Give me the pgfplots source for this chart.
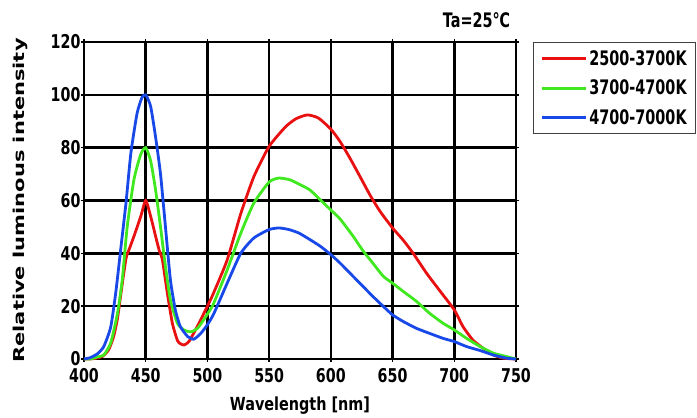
\documentclass[border=0pt]{standalone}
\usepackage{fontspec}
\usepackage{pgfplots}
\pgfplotsset{compat=1.18}
\setmainfont{DejaVu Sans}
\newfontfamily\tickfont[FakeStretch=0.75]{DejaVu Sans}
\newfontfamily\legfont[FakeStretch=0.72]{DejaVu Sans}
\newfontfamily\xlabfont[FakeStretch=0.8]{DejaVu Sans}
\newfontfamily\ylabfont[FakeStretch=1.4]{DejaVu Sans}

\definecolor{cred}{RGB}{232,16,16}
\definecolor{cgreen}{RGB}{64,232,32}
\definecolor{cblue}{RGB}{24,72,232}

\begin{document}
\begin{tikzpicture}
\useasboundingbox (-84pt,-59pt) rectangle (613pt,359pt);
\begin{axis}[
    scale only axis,
    width=432pt, height=317pt,
    xmin=400, xmax=750, ymin=0, ymax=120,
    xtick={400,450,...,750},
    ytick={0,20,...,120},
    grid=major,
    major grid style={black, line width=2.6pt},
    axis line style={black, line width=2.6pt},
    tick style={black, line width=1.5pt},
    tick align=outside,
    major tick length=3pt,
    /pgf/number format/assume math mode=true,
    ticklabel style={font=\tickfont\bfseries\fontsize{19}{22}\selectfont},
    xticklabel style={yshift=-3pt},
    yticklabel style={xshift=3pt},
    xlabel={\xlabfont\bfseries\fontsize{18}{20}\selectfont Wavelength [nm]},
    ylabel={\ylabfont\bfseries\fontsize{15}{18}\selectfont Relative luminous intensity},
    xlabel style={yshift=-7pt},
    ylabel style={yshift=16pt},
    clip=false,
    legend style={at={(1.039,1)}, anchor=north west,
      draw=black!75, line width=1pt, fill=white,
      font=\legfont\bfseries\fontsize{20}{24}\selectfont,
      inner xsep=7pt, inner ysep=6pt, row sep=9pt},
    legend cell align=left,
    legend image code/.code={\draw[#1, line width=3pt] (0pt,0pt) -- (44pt,0pt);},
    every axis plot/.append style={line width=2.8pt, smooth, tension=0.35},
]
\addplot[cred] coordinates {
(400,0) (405,0) (410,0.3) (415,1) (420,3.5) (424,8.5) (427,15) (430,25)
(434,38) (437,42) (440.5,46.5) (446,54) (450,60) (454,54) (458,46.5)
(461,41) (463.5,37.6) (467.5,25) (471.6,13.5) (475.7,7) (478,5.8)
(481,5.3) (485,6.6) (492,12.5) (500,20) (505,25) (516,37.5) (527,55)
(537.6,69) (550,80.5) (563.5,88) (572,91) (581,92.4) (590,91.2)
(600,87) (607.5,82.3) (615.5,76) (623.7,69) (631.8,62) (640,55.8) (650,49.6)
(658.6,45) (666.7,40) (677.5,32.5) (688,26) (700,18.6) (707,12.3)
(715,7.2) (723.6,4) (731.7,1.5) (740,0.3) (750,0)};
\addlegendentry{2500-3700K}
\addplot[cgreen] coordinates {
(400,0) (405,0) (411,0.8) (416,1.5) (421.6,6) (427,17) (431,30) (435,50)
(440.5,68) (446,77.5) (450,80) (454,75) (458,64) (462,50) (466,35)
(470,22.4) (475.7,13.5) (481,11) (486.5,10.3) (492,11.6) (500,17)
(505,21) (516,33.7) (527,47.6) (537.6,59) (550,67) (558,68.5) (567,67.8)
(575,66) (583,64) (592,60) (600,56.4) (607.5,53) (618,46.5) (626,41) (634,36.3)
(642.5,31.3) (650,28.7) (658.6,25.6) (669.4,21.8) (680,17.3) (691,13.5)
(700,11) (710,7.8) (721,4.7) (731.7,2.2) (742.5,0.9) (750,0)};
\addlegendentry{3700-4700K}
\addplot[cblue] coordinates {
(400,0) (405,0.5) (411,2) (416,4.7) (421.6,12) (425.7,25) (430,42.6)
(434,59) (438,78) (443,93) (447,99) (450,100) (454,95.6) (458,84)
(462,70) (466,50) (470,30) (474,18.6) (478,12.3) (484,8.5) (489,7.5)
(494.6,9.7) (500,13) (505,17) (516,28.7) (527,40) (537.6,45.8) (550,49)
(558,49.6) (566,49) (574,47.7) (582,45.5) (591.4,42.7) (600,39.5)
(607.5,36.3) (618,31.3) (626,27.5) (634,23.7) (642.5,19.9) (650,16.7)
(658.6,14.2) (669.4,11.6) (680,9.7) (691,7.8) (700,6.6) (710,4.7)
(721,3.2) (731.7,1.5) (742.5,0.3) (750,0)};
\addlegendentry{4700-7000K}
\node[font=\legfont\bfseries\fontsize{20}{24}\selectfont] at (rel axis cs:0.9086,1.069) {Ta=25℃};
\end{axis}
\end{tikzpicture}
\end{document}
